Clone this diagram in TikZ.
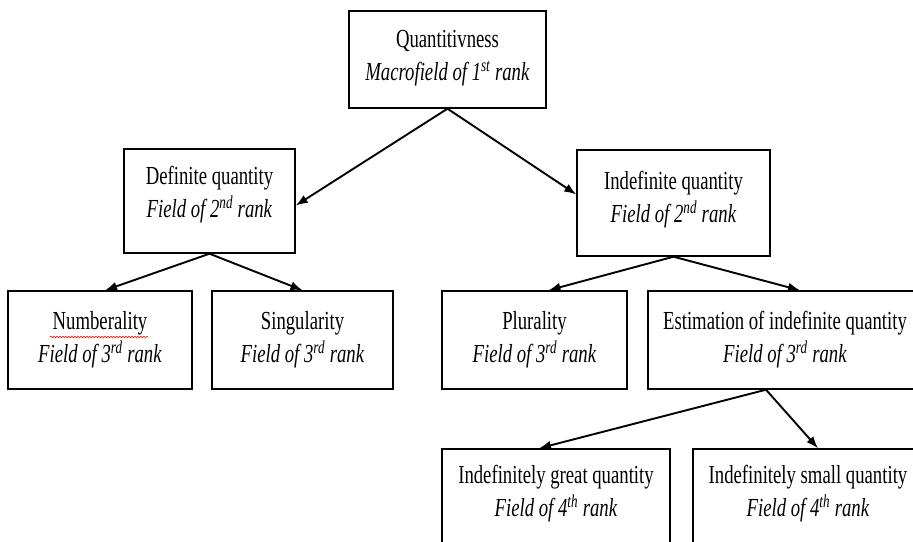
\documentclass[tikz,border=0pt]{standalone}
\usepackage{fontspec}
\setmainfont[FakeStretch=0.72]{Liberation Serif}
\usetikzlibrary{arrows.meta}
\usetikzlibrary{decorations.pathmorphing}
\tikzset{>={Latex[length=12pt,width=9pt]}}
\tikzstyle{field}=[draw,line width=1.4pt,align=center,inner sep=2pt,
  font=\fontsize{26}{33}\selectfont]
\tikzstyle{lift}=[text depth=#1]
\tikzstyle{link}=[->,line width=1.9pt]

\begin{document}
\begin{tikzpicture}[x=1pt,y=-1pt]
  \clip (0,0) rectangle (913,541);
  \def\H{98pt}

  % 1st rank
  \node[field,minimum width=197pt,minimum height=97pt,lift=9pt] (Q) at (447.5,59.5)
    {Quantitivness\\ \textit{Macrofield of 1\textsuperscript{st} rank}};

  % 2nd rank
  \node[field,minimum width=171pt,minimum height=104pt,lift=18pt] (DQ) at (209.5,201)
    {Definite quantity\\ \textit{Field of 2\textsuperscript{nd} rank}};
  \node[field,minimum width=193pt,minimum height=106pt,lift=12pt] (IQ) at (673.5,203)
    {Indefinite quantity\\ \textit{Field of 2\textsuperscript{nd} rank}};

  % 3rd rank
  \node[field,minimum width=184pt,minimum height=\H] (Nu) at (100,340)
    {Numberality\\ \textit{Field of 3\textsuperscript{rd} rank}};
  \node[field,minimum width=181pt,minimum height=\H] (Si) at (302.5,340)
    {Singularity\\ \textit{Field of 3\textsuperscript{rd} rank}};
  \node[field,minimum width=185pt,minimum height=\H] (Pl) at (534.5,340)
    {Plurality\\ \textit{Field of 3\textsuperscript{rd} rank}};
  \node[field,minimum width=274pt,minimum height=\H] (Es) at (785,340)
    {Estimation of indefinite quantity\\ \textit{Field of 3\textsuperscript{rd} rank}};

  % 4th rank
  \node[field,minimum width=228pt,minimum height=\H,lift=14pt] (Gr) at (556,498)
    {Indefinitely great quantity\\ \textit{Field of 4\textsuperscript{th} rank}};
  \node[field,minimum width=230pt,minimum height=\H,lift=14pt] (Sm) at (808,498)
    {Indefinitely small quantity\\ \textit{Field of 4\textsuperscript{th} rank}};

  % spell check line
  \draw[red,line width=0.6pt,decorate,
        decoration={snake,amplitude=0.8pt,segment length=3pt}]
        (50,337) -- (148,337);

  \draw[link] (Q.south) -- (DQ.-3);
  \draw[link] (Q.south) -- (IQ.175);
  \draw[link] (DQ.south) -- ([xshift=5pt]Nu.north);
  \draw[link] (DQ.south) -- (Si.north);
  \draw[link] (IQ.south) -- ([xshift=14pt]Pl.north);
  \draw[link] (IQ.south) -- ([xshift=15pt]Es.north);
  \draw[link] ([xshift=-19pt]Es.south) -- ([xshift=-17pt]Gr.north);
  \draw[link] ([xshift=-19pt]Es.south) -- ([xshift=10pt]Sm.north);

\end{tikzpicture}
\end{document}
